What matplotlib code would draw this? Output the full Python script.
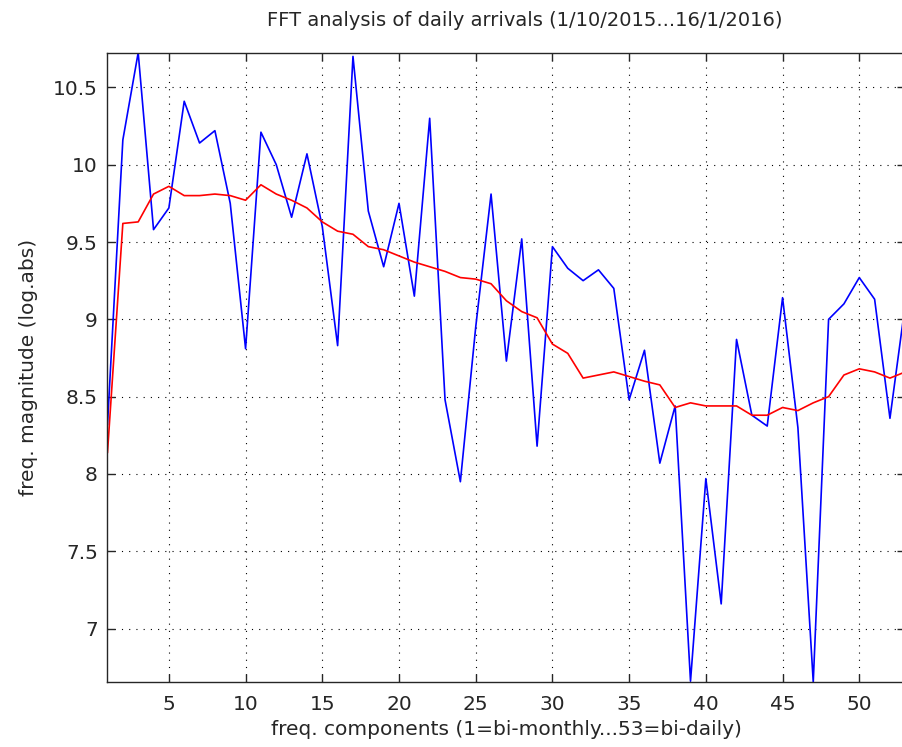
import numpy as np
import matplotlib
matplotlib.use('Agg')
import matplotlib.pyplot as plt

plt.rcParams['font.family'] = ['DejaVu Sans']

# frequency component index 1..53
comp = np.arange(1, 54)

# log magnitude of FFT (blue)
mag = [8.32, 10.16, 10.724, 9.58, 9.72, 10.41, 10.14, 10.22, 9.75, 8.81,
       10.21, 10.0, 9.66, 10.07, 9.6, 8.83, 10.70, 9.7, 9.34, 9.75,
       9.15, 10.30, 8.48, 7.95, 8.95, 9.81, 8.73, 9.52, 8.18, 9.47,
       9.33, 9.25, 9.32, 9.2, 8.48, 8.80, 8.07, 8.44, 6.66, 7.97,
       7.16, 8.87, 8.38, 8.31, 9.14, 8.3, 6.655, 9.0, 9.10, 9.27,
       9.13, 8.36, 9.1]

# smoothed magnitude (red)
smooth = [8.14, 9.62, 9.63, 9.81, 9.86, 9.80, 9.80, 9.81, 9.80, 9.77,
          9.87, 9.81, 9.77, 9.72, 9.63, 9.57, 9.55, 9.47, 9.45, 9.41,
          9.37, 9.34, 9.31, 9.27, 9.26, 9.23, 9.12, 9.05, 9.01, 8.84,
          8.78, 8.62, 8.64, 8.66, 8.63, 8.60, 8.576, 8.43, 8.46, 8.44,
          8.44, 8.44, 8.38, 8.38, 8.43, 8.41, 8.46, 8.50, 8.64, 8.68,
          8.66, 8.62, 8.66]

fig = plt.figure(figsize=(9.03, 7.47), dpi=100)
ax = fig.add_axes([107.5/903, 65/747, 797.8/903, 629.3/747])

ax.plot(comp, mag, color=(0, 0, 1), lw=1.2)
ax.plot(comp, smooth, color=(1, 0, 0), lw=1.2)

ax.set_xlim(1, 53)
ax.set_ylim(min(mag), max(mag))
ax.set_xticks(np.arange(5, 51, 5))
ax.set_yticks(np.arange(7, 10.6, 0.5))
ax.set_yticklabels(['7', '7.5', '8', '8.5', '9', '9.5', '10', '10.5'])

ax.grid(True, color='black', linestyle=(0, (1, 5.5)), lw=0.8)
ax.tick_params(direction='in', top=True, right=True, length=6, width=1,
               labelsize=14.5, colors='#262626', labelcolor='#262626')
ax.tick_params(axis='x', pad=9)
ax.tick_params(axis='y', pad=7)
for s in ax.spines.values():
    s.set_color('#262626')
    s.set_linewidth(1)

ax.set_xlabel('freq. components (1=bi-monthly...53=bi-daily)', fontsize=14.5,
              color='#262626', labelpad=5)
ax.set_ylabel('freq. magnitude (log.abs)', fontsize=14.5, color='#262626',
              labelpad=11)
fig.text(525/903, 1 - 20/747, 'FFT analysis of daily arrivals (1/10/2015...16/1/2016)',
         fontsize=14, ha='center', va='center', color='#262626')

fig.savefig('out.png', dpi=100)
